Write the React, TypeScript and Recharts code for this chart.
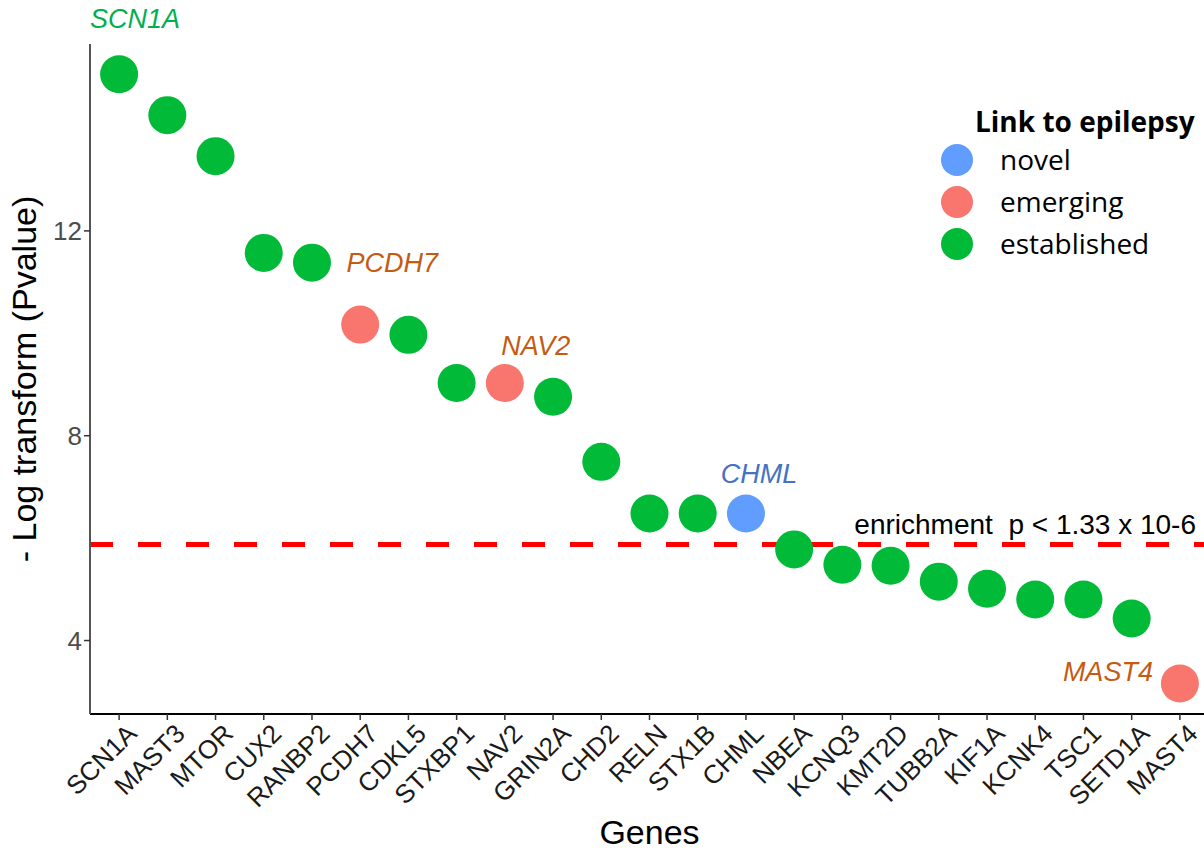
import React from 'react';
import {
  ScatterChart,
  Scatter,
  XAxis,
  YAxis,
  ReferenceLine,
} from 'recharts';

const genes = [
  'SCN1A', 'MAST3', 'MTOR', 'CUX2', 'RANBP2', 'PCDH7', 'CDKL5', 'STXBP1', 'NAV2', 'GRIN2A',
  'CHD2', 'RELN', 'STX1B', 'CHML', 'NBEA', 'KCNQ3', 'KMT2D', 'TUBB2A', 'KIF1A', 'KCNK4',
  'TSC1', 'SETD1A', 'MAST4',
];
const logP = [
  15.06, 14.26, 13.46, 11.57, 11.38, 10.17, 9.97, 9.03, 9.03, 8.76,
  7.49, 6.48, 6.48, 6.48, 5.78, 5.48, 5.46, 5.15, 5.01, 4.8,
  4.8, 4.43, 3.16,
];
const link = [
  'established', 'established', 'established', 'established', 'established', 'emerging',
  'established', 'established', 'emerging', 'established', 'established', 'established',
  'established', 'novel', 'established', 'established', 'established', 'established',
  'established', 'established', 'established', 'established', 'emerging',
];
const labelled = ['SCN1A', 'PCDH7', 'NAV2', 'CHML', 'MAST4'];
const yTicks = [4, 8, 12];
const threshold = 5.876;
const legendItems = ['novel', 'emerging', 'established'];

const dotColor: Record<string, string> = {
  novel: '#619CFF',
  emerging: '#F8766D',
  established: '#00BA38',
};
const labelColor: Record<string, string> = {
  novel: '#4472C4',
  emerging: '#C55A11',
  established: '#00B050',
};
// offsets of the gene labels from their point
const labelOffset: Record<string, [number, number]> = {
  SCN1A: [16, -46],
  PCDH7: [32, -53],
  NAV2: [31, -28],
  CHML: [13, -31],
  MAST4: [-72, -3],
};

const font = 'Liberation Sans, Arial, sans-serif';

const data = genes.map((g, i) => ({ gene: g, value: logP[i], link: link[i] }));

const Dot = (props: any) => {
  const { cx, cy, payload } = props;
  const off = labelOffset[payload.gene];
  return (
    <g>
      <circle cx={cx} cy={cy} r={19} fill={dotColor[payload.link]} />
      {labelled.includes(payload.gene) && off && (
        <text
          x={cx + off[0]}
          y={cy + off[1]}
          textAnchor="middle"
          fontStyle="italic"
          fontSize={27}
          fontFamily={font}
          fill={labelColor[payload.link]}
        >
          {payload.gene}
        </text>
      )}
    </g>
  );
};

const GeneTick = (props: any) => {
  const { x, y, payload } = props;
  const ax = x + 6;
  const ay = y;
  return (
    <text
      x={ax}
      y={ay}
      dy="0.72em"
      textAnchor="end"
      transform={`rotate(-45, ${ax}, ${ay})`}
      fontSize={26}
      fontFamily={font}
      fill="#1a1a1a"
    >
      {payload.value}
    </text>
  );
};

const LegendBox = () => (
  <svg width={264} height={170} style={{ position: 'absolute', left: 940, top: 95 }}>
    <text x={35} y={37} fontSize={28} fontWeight="bold" fontFamily="Open Sans, sans-serif" fill="#000">
      Link to epilepsy
    </text>
    {legendItems.map((k, i) => (
      <g key={k}>
        <circle cx={17} cy={65 + i * 42} r={16} fill={dotColor[k]} />
        <text x={60} y={75 + i * 42} fontSize={28} fontFamily="Open Sans, sans-serif" fill="#000">
          {k}
        </text>
      </g>
    ))}
  </svg>
);

const ThresholdLabel = (props: any) => {
  const { viewBox } = props;
  return (
    <text
      x={viewBox.x + viewBox.width - 13}
      y={viewBox.y - 10}
      textAnchor="end"
      fontSize={28}
      fontFamily={font}
      fill="#000"
      style={{ whiteSpace: 'pre' }}
    >
      {'enrichment  p < 1.33 x 10-6'}
    </text>
  );
};

export default function App() {
  return (
    <div
      style={{
        position: 'absolute',
        left: 0,
        top: 0,
        width: 1204,
        height: 850,
        overflow: 'hidden',
        background: '#fff',
      }}
    >
      <ScatterChart
        width={1220}
        height={850}
        margin={{ top: 44, right: 11, bottom: 0, left: 0 }}
        style={{ overflow: 'visible' }}
      >
        <XAxis
          dataKey="gene"
          type="category"
          allowDuplicatedCategory={false}
          padding={{ left: 5, right: 5 }}
          height={136}
          interval={0}
          stroke="#000"
          strokeWidth={2}
          tickSize={6}
          tickLine={{ stroke: '#333', strokeWidth: 1.5 }}
          tick={<GeneTick />}
          label={{
            value: 'Genes',
            position: 'insideBottom',
            offset: 6,
            fontSize: 34,
            fill: '#000',
            fontFamily: font,
          }}
        />
        <YAxis
          dataKey="value"
          type="number"
          domain={[2.565, 15.65]}
          ticks={yTicks}
          width={90}
          stroke="#555"
          strokeWidth={2}
          tickSize={6}
          tickLine={{ stroke: '#333', strokeWidth: 1.5 }}
          tick={{ fontSize: 26, fill: '#4D4D4D', fontFamily: font }}
          label={{
            value: '- Log transform (Pvalue)',
            angle: -90,
            position: 'insideLeft',
            offset: 24,
            style: { textAnchor: 'middle' },
            fontSize: 34,
            fill: '#000',
            fontFamily: font,
          }}
        />
        <ReferenceLine
          y={threshold}
          stroke="#FF0000"
          strokeWidth={5}
          strokeDasharray="23 25"
          label={<ThresholdLabel />}
        />
        <Scatter data={data} shape={<Dot />} isAnimationActive={false} />
      </ScatterChart>
      <LegendBox />
    </div>
  );
}
